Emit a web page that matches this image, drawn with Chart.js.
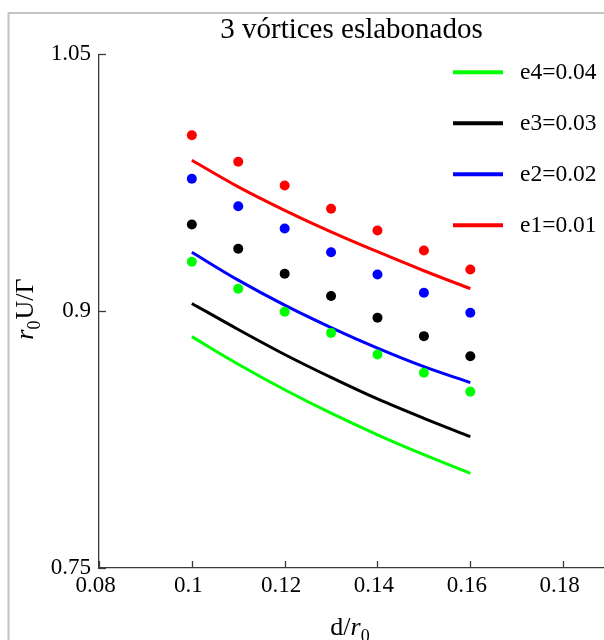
<!DOCTYPE html>
<html><head><meta charset="utf-8">
<script src="https://cdn.jsdelivr.net/npm/chart.js@4"></script>
<style>html,body{margin:0;padding:0;background:#fff}canvas{display:block}</style>
</head><body>
<canvas id="c" width="604" height="640"></canvas>
<script>
// ---- data ----
const xValues = [0.10, 0.11, 0.12, 0.13, 0.14, 0.15, 0.16];
const seriesLabels = ['e4=0.04', 'e3=0.03', 'e2=0.02', 'e1=0.01'];
const seriesColors = ['#00ff00', '#000000', '#0000ff', '#ff0000'];
// continuous curves (lines)
const curveE4 = [0.8851, 0.8690, 0.8541, 0.8404, 0.8278, 0.8162, 0.8053];
const curveE3 = [0.9045, 0.8893, 0.8747, 0.8613, 0.8487, 0.8374, 0.8267];
const curveE2 = [0.9344, 0.9181, 0.9035, 0.8904, 0.8784, 0.8676, 0.8583];
const curveE1 = [0.9881, 0.9726, 0.9589, 0.9463, 0.9347, 0.9236, 0.9131];
// discrete points (dots)
const pointsE4 = [0.9288, 0.9131, 0.8996, 0.8873, 0.8747, 0.8640, 0.8530];
const pointsE3 = [0.9506, 0.9364, 0.9218, 0.9088, 0.8961, 0.8854, 0.8737];
const pointsE2 = [0.9773, 0.9613, 0.9483, 0.9344, 0.9214, 0.9107, 0.8991];
const pointsE1 = [1.0027, 0.9872, 0.9734, 0.9598, 0.9471, 0.9354, 0.9243];
const xTickValues = [0.08, 0.10, 0.12, 0.14, 0.16, 0.18];
const xTickLabels = ['0.08', '0.1', '0.12', '0.14', '0.16', '0.18'];
const yTickValues = [0.75, 0.9, 1.05];
const yTickLabels = ['0.75', '0.9', '1.05'];
const titleText = '3 vórtices eslabonados';
const xTitleParts = [['d/', 'n'], ['r', 'i'], ['0', 's']];
const yTitleParts = [['r', 'i'], ['0', 's'], ['U/Γ', 'n']];

const curves = [curveE4, curveE3, curveE2, curveE1];
const points = [pointsE4, pointsE3, pointsE2, pointsE1];

const FONT = "'Liberation Serif', 'Times New Roman', serif";
const AXIS_COLOR = '#3a3a3a';

const datasets = [];
seriesLabels.forEach((lab, k) => {
  datasets.push({
    label: lab,
    data: xValues.map((x, i) => ({x: x, y: curves[k][i]})),
    showLine: true, borderColor: seriesColors[k], backgroundColor: seriesColors[k],
    borderWidth: 3, pointRadius: 0, pointHoverRadius: 0,
    cubicInterpolationMode: 'monotone', fill: false, isCurve: true
  });
  datasets.push({
    label: lab + ' (puntos)',
    data: xValues.map((x, i) => ({x: x, y: points[k][i]})),
    showLine: false, backgroundColor: seriesColors[k], borderColor: seriesColors[k],
    borderWidth: 0, pointRadius: 5, pointHoverRadius: 5
  });
});

function pickLabel(values, labels, v) {
  let best = 0;
  values.forEach((t, i) => { if (Math.abs(t - v) < Math.abs(values[best] - v)) best = i; });
  return labels[best];
}

function drawRich(ctx, parts, size) {
  const fonts = {
    n: size + 'px ' + FONT,
    i: 'italic ' + size + 'px ' + FONT,
    s: Math.round(size * 0.7) + 'px ' + FONT
  };
  let total = 0;
  parts.forEach(p => { ctx.font = fonts[p[1]]; total += ctx.measureText(p[0]).width + (p[1] === 's' ? 1 : 0); });
  let x = -total / 2;
  parts.forEach(p => {
    ctx.font = fonts[p[1]];
    const dy = p[1] === 's' ? size * 0.25 : 0;
    ctx.fillText(p[0], x, dy);
    x += ctx.measureText(p[0]).width + (p[1] === 's' ? 1 : 0);
  });
}

const decorPlugin = {
  id: 'decor',
  beforeDraw(chart) {
    const ctx = chart.ctx;
    ctx.save();
    ctx.fillStyle = '#fff';
    ctx.fillRect(0, 0, chart.width, chart.height);
    ctx.strokeStyle = '#c4c4c4';
    ctx.lineWidth = 2;
    ctx.strokeRect(8.5, 13, 800, 800);
    ctx.restore();
  },
  afterDraw(chart) {
    const ctx = chart.ctx;
    const ca = chart.chartArea;
    const xs = chart.scales.x, ys = chart.scales.y;
    ctx.save();
    // inward tick marks
    ctx.strokeStyle = AXIS_COLOR;
    ctx.lineWidth = 1.3;
    xTickValues.forEach(v => {
      const px = Math.round(xs.getPixelForValue(v)) + 0.5;
      ctx.beginPath(); ctx.moveTo(px, ca.bottom); ctx.lineTo(px, ca.bottom - 7); ctx.stroke();
    });
    yTickValues.forEach(v => {
      const py = Math.round(ys.getPixelForValue(v)) + 0.5;
      ctx.beginPath(); ctx.moveTo(ca.left, py); ctx.lineTo(ca.left + 7, py); ctx.stroke();
    });
    // legend
    ctx.fillStyle = '#000';
    ctx.textBaseline = 'middle';
    ctx.textAlign = 'left';
    ctx.font = '23.5px ' + FONT;
    chart.data.datasets.filter(d => d.isCurve).forEach((d, i) => {
      const y = ca.top + 18 + i * 51;
      ctx.strokeStyle = d.borderColor;
      ctx.lineWidth = 4;
      ctx.beginPath(); ctx.moveTo(ca.right - 151, y); ctx.lineTo(ca.right - 101, y); ctx.stroke();
      ctx.fillText(d.label, ca.right - 84, y + 1);
    });
    // axis titles
    ctx.textBaseline = 'alphabetic';
    ctx.save();
    ctx.translate((ca.left + ca.right) / 2 - 1, 635);
    drawRich(ctx, xTitleParts, 26);
    ctx.restore();
    ctx.save();
    ctx.translate(33, (ca.top + ca.bottom) / 2 - 2);
    ctx.rotate(-Math.PI / 2);
    drawRich(ctx, yTitleParts, 26);
    ctx.restore();
    ctx.restore();
  }
};

new Chart(document.getElementById('c'), {
  type: 'scatter',
  data: {datasets: datasets},
  plugins: [decorPlugin],
  options: {
    responsive: false,
    animation: false,
    devicePixelRatio: 1,
    layout: {autoPadding: false, padding: {left: 0, right: 0, top: 0, bottom: 0}},
    plugins: {
      legend: {display: false},
      tooltip: {enabled: false},
      title: {
        display: true, text: titleText, fullSize: false, color: '#000',
        font: {family: FONT, size: 29, weight: 'normal', lineHeight: 1.2},
        padding: {top: 13, bottom: 6.5}
      }
    },
    scales: {
      x: {
        type: 'linear', min: 0.08, max: 0.1888,
        afterBuildTicks: s => { s.ticks = xTickValues.map(v => ({value: v})); },
        afterFit: s => { s.height = 72; s.paddingRight = 0; s.paddingLeft = 0; },
        grid: {display: true, drawOnChartArea: false, drawTicks: false},
        border: {display: true, color: AXIS_COLOR, width: 1.3},
        ticks: {
          padding: 4, labelOffset: -3.5, color: '#000', maxRotation: 0, autoSkip: false,
          font: {family: FONT, size: 23},
          callback: v => pickLabel(xTickValues, xTickLabels, v)
        }
      },
      y: {
        type: 'linear', min: 0.75, max: 1.05,
        afterBuildTicks: s => { s.ticks = yTickValues.map(v => ({value: v})); },
        afterFit: s => { s.width = 99; },
        grid: {display: true, drawOnChartArea: false, drawTicks: false},
        border: {display: true, color: AXIS_COLOR, width: 1.3},
        ticks: {
          padding: 8, color: '#000', autoSkip: false,
          font: {family: FONT, size: 23},
          callback: v => pickLabel(yTickValues, yTickLabels, v)
        }
      }
    }
  }
});
</script>
</body></html>
